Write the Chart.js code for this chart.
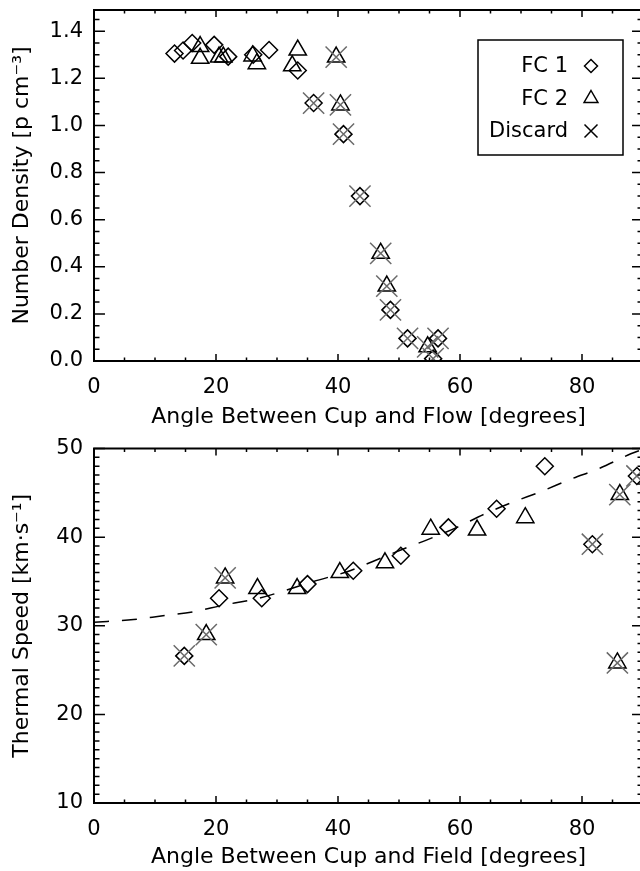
<!DOCTYPE html>
<html><head><meta charset="utf-8">
<script src="https://cdn.jsdelivr.net/npm/chart.js@4.4.0/dist/chart.umd.min.js"></script>
<style>
html,body{margin:0;padding:0;background:#fff;overflow:hidden;width:640px;height:871px;position:relative;}
canvas{position:absolute;left:0;}
#cTop{top:0;}
#cBot{top:432px;}
</style></head><body>
<canvas id="cTop" width="650" height="432"></canvas>
<canvas id="cBot" width="650" height="439"></canvas>
<script>
// ---------- data ----------
const xTicks = [0, 20, 40, 60, 80];
const densityTicks = [0.0, 0.2, 0.4, 0.6, 0.8, 1.0, 1.2, 1.4];
const speedTicks = [10, 20, 30, 40, 50];

// Top panel: angle between cup and flow [deg] vs number density [p cm^-3]
const flowFC1 = [[13.2,1.305],[14.6,1.318],[16.1,1.35],[19.7,1.342],[22.0,1.292],[26.1,1.30],[28.7,1.32],[33.4,1.233]];
const flowFC2 = [[17.4,1.335],[17.4,1.285],[20.5,1.29],[21.2,1.29],[26.0,1.295],[26.7,1.262],[32.5,1.253],[33.4,1.32]];
const flowFC1Discard = [[36.0,1.095],[40.9,0.963],[43.6,0.70],[48.6,0.217],[51.4,0.096],[56.4,0.096],[55.6,0.01]];
const flowFC2Discard = [[39.7,1.29],[40.4,1.087],[47.0,0.457],[48.0,0.318],[54.7,0.06]];

// Bottom panel: angle between cup and field [deg] vs thermal speed [km/s]
const fieldFC1 = [[20.5,33.1],[27.5,33.1],[35.0,34.7],[42.5,36.2],[50.3,37.9],[58.1,41.1],[66.0,43.2],[73.9,48.0]];
const fieldFC2 = [[26.8,34.2],[33.3,34.2],[40.3,36.0],[47.7,37.1],[55.2,40.9],[62.8,40.8],[70.7,42.2]];
const fieldFC1Discard = [[14.8,26.6],[81.7,39.2],[89.0,46.9]];
const fieldFC2Discard = [[18.4,29.0],[21.5,35.4],[85.8,25.8],[86.2,44.8]];
const fitAngle = [0, 6.5, 11, 16.5, 21, 27, 31, 36, 41.5, 45.5, 50.5, 55, 59.5, 64, 68.5, 73.5, 78, 83, 88, 90];
const fitSpeed = [30.4, 30.7, 31.1, 31.6, 32.3, 33.1, 33.9, 35.0, 36.1, 37.2, 38.6, 39.8, 41.1, 42.6, 43.9, 45.2, 46.5, 47.8, 49.4, 49.9];

// ---------- helpers ----------
const F = '"DejaVu Sans", sans-serif';
const pts = arr => arr.map(([x, y]) => ({x, y}));

const frameTicks = {
  id: 'frameTicks',
  afterDatasetsDraw(chart, args, o) {
    const {ctx, chartArea: a, scales: {x, y}} = chart;
    ctx.save();
    ctx.strokeStyle = '#000';
    ctx.lineWidth = 1.5;
    const xLen = (a.bottom - a.top) * 0.02, yLen = (a.right - a.left) * 0.02;
    ctx.beginPath();
    for (let i = 0; ; i++) {
      const v = x.min + i * o.xMinor; if (v > x.max + 1e-9) break;
      const major = xTicks.some(t => Math.abs(t - v) < 1e-6);
      const L = major ? xLen : xLen / 2, p = x.getPixelForValue(v);
      ctx.moveTo(p, a.bottom); ctx.lineTo(p, a.bottom - L);
      ctx.moveTo(p, a.top); ctx.lineTo(p, a.top + L);
    }
    for (let i = 0; ; i++) {
      const v = y.min + i * o.yMinor; if (v > y.max + 1e-9) break;
      const major = o.yMajor.some(t => Math.abs(t - v) < 1e-6);
      const L = major ? yLen : yLen / 2, p = y.getPixelForValue(v);
      ctx.moveTo(a.left, p); ctx.lineTo(a.left + L, p);
      ctx.moveTo(a.right, p); ctx.lineTo(a.right - L, p);
    }
    ctx.stroke();
    ctx.lineWidth = 2;
    ctx.strokeRect(a.left, a.top, a.right - a.left, a.bottom - a.top);
    ctx.restore();
  }
};

const boxLegend = {
  id: 'boxLegend',
  afterDraw(chart, args, o) {
    if (!o.items) return;
    const {ctx, chartArea: a} = chart;
    const bw = 145, bh = 115, bx = a.right - 20 - bw, by = a.top + 30;
    ctx.save();
    ctx.strokeStyle = '#000'; ctx.lineWidth = 1.5;
    ctx.strokeRect(bx, by, bw, bh);
    ctx.font = '21px ' + F; ctx.textAlign = 'right'; ctx.textBaseline = 'middle'; ctx.fillStyle = '#000';
    o.items.forEach((it, i) => {
      const cy = by + 26 + i * 32.5, cx = bx + bw - 32;
      ctx.fillText(it.text, bx + bw - 55, cy + 1);
      ctx.beginPath();
      if (it.style === 'diamond') {
        const r = 6.5;
        ctx.moveTo(cx - r, cy); ctx.lineTo(cx, cy - r); ctx.lineTo(cx + r, cy); ctx.lineTo(cx, cy + r); ctx.closePath();
      } else if (it.style === 'triangle') {
        const r = 8;
        ctx.moveTo(cx, cy - r); ctx.lineTo(cx + 0.866 * r, cy + r / 2); ctx.lineTo(cx - 0.866 * r, cy + r / 2); ctx.closePath();
      } else {
        const h = 6.5;
        ctx.moveTo(cx - h, cy - h); ctx.lineTo(cx + h, cy + h); ctx.moveTo(cx + h, cy - h); ctx.lineTo(cx - h, cy + h);
      }
      ctx.stroke();
    });
    ctx.restore();
  }
};

function xScale(title, h, pb) {
  return {
    type: 'linear', min: 0, max: 90,
    afterBuildTicks: s => { s.ticks = xTicks.map(v => ({value: v})); },
    grid: {display: false, drawTicks: false}, border: {display: false},
    ticks: {font: {family: F, size: 21}, color: '#000', padding: 14, maxRotation: 0, autoSkip: false},
    title: {display: true, text: title, font: {family: F, size: 22}, color: '#000', padding: {top: 0, bottom: pb}},
    afterFit: s => { s.height = h; s.paddingLeft = 0; s.paddingRight = 0; }
  };
}
function yScale(min, max, ticks, fmt, title) {
  return {
    type: 'linear', min, max,
    afterBuildTicks: s => { s.ticks = ticks.map(v => ({value: v})); },
    grid: {display: false, drawTicks: false}, border: {display: false},
    ticks: {font: {family: F, size: 21}, color: '#000', padding: 11, autoSkip: false, callback: fmt},
    title: {display: true, text: title, font: {family: F, size: 22}, color: '#000', padding: {top: 9, bottom: 0}},
    afterFit: s => { s.width = 94; s.paddingTop = 0; s.paddingBottom = 0; }
  };
}
const diamond = (data, order) => ({data: pts(data), pointStyle: 'rectRot', pointRadius: 8.5, borderColor: '#000', backgroundColor: 'rgba(0,0,0,0)', borderWidth: 1.5, order});
const triangle = (data, order) => ({data: pts(data), pointStyle: 'triangle', pointRadius: 10, borderColor: '#000', backgroundColor: 'rgba(0,0,0,0)', borderWidth: 1.5, order});
const crosses = (data, order) => ({data: pts(data), pointStyle: 'crossRot', pointRadius: 15, borderColor: '#6a6a6a', backgroundColor: 'rgba(0,0,0,0)', borderWidth: 1.5, order});
const common = {
  responsive: false, animation: false, events: [],
  plugins: {legend: {display: false}, tooltip: {enabled: false}}
};

new Chart(document.getElementById('cTop'), {
  type: 'scatter',
  data: {datasets: [
    crosses(flowFC1Discard.concat(flowFC2Discard), 0),
    diamond(flowFC1, 2), triangle(flowFC2, 2),
    diamond(flowFC1Discard, 1), triangle(flowFC2Discard, 1)
  ]},
  options: Object.assign({}, common, {
    layout: {autoPadding: false, padding: {top: 10, right: 7, left: 0, bottom: 0}},
    scales: {
      x: xScale('Angle Between Cup and Flow [degrees]', 71, 1.8),
      y: yScale(0, 1.49, densityTicks, v => v.toFixed(1), 'Number Density [p cm\u207B\u00B3]')
    },
    plugins: Object.assign({}, common.plugins, {
      frameTicks: {xMinor: 5, yMinor: 0.05, yMajor: densityTicks},
      boxLegend: {items: [{text: 'FC 1', style: 'diamond'}, {text: 'FC 2', style: 'triangle'}, {text: 'Discard', style: 'cross'}]}
    })
  }),
  plugins: [frameTicks, boxLegend]
});

new Chart(document.getElementById('cBot'), {
  type: 'scatter',
  data: {datasets: [
    crosses(fieldFC1Discard.concat(fieldFC2Discard), 0),
    diamond(fieldFC1, 2), triangle(fieldFC2, 2),
    diamond(fieldFC1Discard, 1), triangle(fieldFC2Discard, 1),
    {type: 'line', data: fitAngle.map((a, i) => ({x: a, y: fitSpeed[i]})), borderColor: '#000', borderWidth: 1.5,
     borderDash: [15, 13], pointRadius: 0, fill: false, tension: 0, cubicInterpolationMode: 'monotone', order: 3}
  ]},
  options: Object.assign({}, common, {
    layout: {autoPadding: false, padding: {top: 16.5, right: 7, left: 0, bottom: 0}},
    scales: {
      x: xScale('Angle Between Cup and Field [degrees]', 68, 0.8),
      y: yScale(10, 50, speedTicks, v => String(v), 'Thermal Speed [km\u00B7s\u207B\u00B9]')
    },
    plugins: Object.assign({}, common.plugins, {
      frameTicks: {xMinor: 5, yMinor: 1, yMajor: speedTicks}
    })
  }),
  plugins: [frameTicks, boxLegend]
});
</script>
</body></html>
